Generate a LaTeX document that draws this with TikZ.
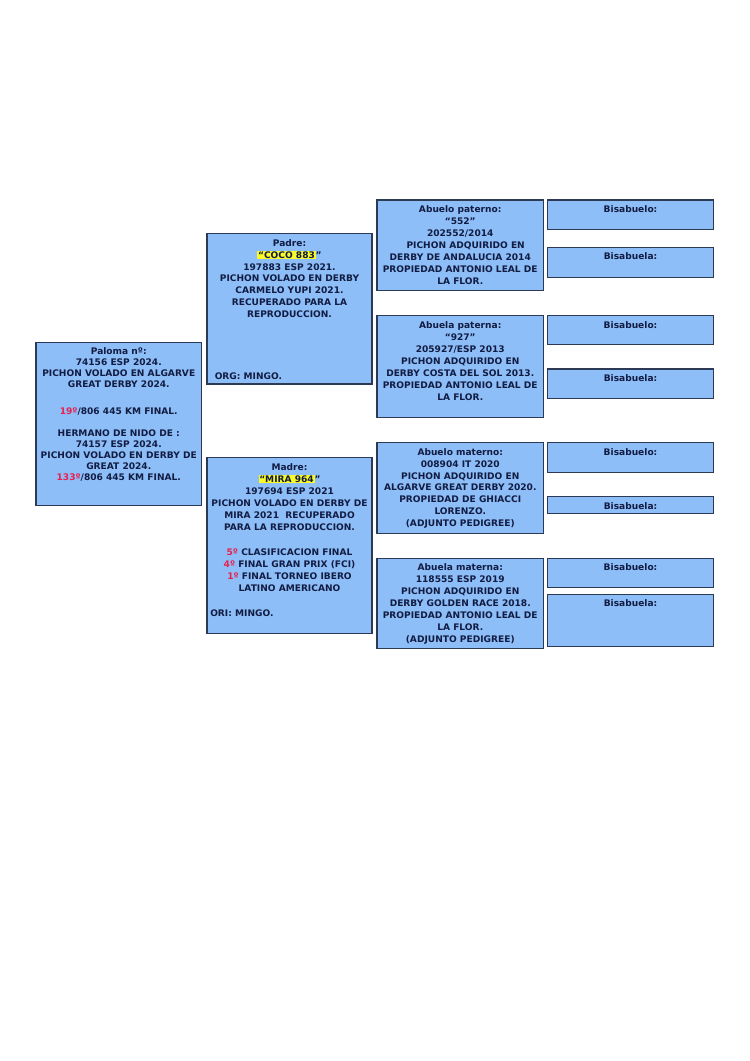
\documentclass[tikz,border=0pt]{standalone}
\usepackage{fontspec}
\setmainfont{DejaVu Sans}
\usepackage{xcolor}
\definecolor{boxfill}{RGB}{141,190,248}
\definecolor{boxline}{RGB}{45,58,85}
\definecolor{txtc}{RGB}{18,28,66}
\definecolor{redc}{RGB}{232,32,78}
\definecolor{hl}{RGB}{250,250,40}
\def\pxu{0.7937pt}
\newcommand\hlt[1]{{\setlength{\fboxsep}{0.6pt}\colorbox{hl}{#1}}}
\newcommand\rd[1]{\textcolor{redc}{#1}}
\tikzset{
  x=0.7937pt, y=-0.7937pt,
  box/.style 2 args={draw=boxline, fill=boxfill, line width=1pt,
    minimum width=#1*\pxu, minimum height=#2*\pxu, anchor=north west,
    inner sep=0pt, outer sep=0pt},
  txt/.style={anchor=north, align=center, inner sep=0pt, text=txtc,
    font=\bfseries\fontsize{7.2}{9.5}\selectfont, yshift=-4.3pt},
  txtp/.style={txt, font=\bfseries\fontsize{7.2}{8.7}\selectfont},
  lefttxt/.style={anchor=west, inner sep=0pt, text=txtc,
    font=\bfseries\fontsize{7.2}{9.5}\selectfont}
}
\begin{document}
\begin{tikzpicture}
\useasboundingbox (0,0) rectangle (750,1061);
% generation 1
\node[box={165.5}{163.5}] (pal) at (36,342.3) {};
\node[txtp] (paltxt) at (pal.north) {Paloma nº:\\74156 ESP 2024.\\PICHON VOLADO EN ALGARVE\\GREAT DERBY 2024.\\[12.5pt]\rd{19º}/806 445 KM FINAL.\\[8.6pt]HERMANO DE NIDO DE :\\74157 ESP 2024.\\PICHON VOLADO EN DERBY DE\\GREAT 2024.\\\rd{133º}/806 445 KM FINAL.};
% generation 2
\node[box={165}{150.5}] (pad) at (207,233.5) {};
\node[txt] (padtxt) at (pad.north) {Padre:\\\hlt{“COCO 883}”\\197883 ESP 2021.\\PICHON VOLADO EN DERBY\\CARMELO YUPI 2021.\\RECUPERADO PARA LA\\REPRODUCCION.};
\node[lefttxt] (padorg) at (214.5,375.7) {ORG: MINGO.};
\node[box={165}{175.5}] (mad) at (207,457.8) {};
\node[txt] (madtxt) at (mad.north) {Madre:\\\hlt{“MIRA 964}”\\197694 ESP 2021\\PICHON VOLADO EN DERBY DE\\MIRA 2021\ \ RECUPERADO\\PARA LA REPRODUCCION.\\[10.5pt]\rd{5º} CLASIFICACION FINAL\\\rd{4º} FINAL GRAN PRIX (FCI)\\\rd{1º} FINAL TORNEO IBERO\\LATINO AMERICANO};
\node[lefttxt] (madori) at (210,612.8) {ORI: MINGO.};
% generation 3
\node[box={166.5}{90.7}] (ap) at (377,200) {};
\node[txt] (aptxt) at (ap.north) {Abuelo paterno:\\“552”\\202552/2014\\\hspace*{1.2em}PICHON ADQUIRIDO EN\\DERBY DE ANDALUCIA 2014\\PROPIEDAD ANTONIO LEAL DE\\LA FLOR.};
\node[box={166.5}{102}] (bp) at (377,315.7) {};
\node[txt] (bptxt) at (bp.north) {Abuela paterna:\\“927”\\205927/ESP 2013\\PICHON ADQUIRIDO EN\\DERBY COSTA DEL SOL 2013.\\PROPIEDAD ANTONIO LEAL DE\\LA FLOR.};
\node[box={166.5}{91}] (am) at (377,442.5) {};
\node[txt] (amtxt) at (am.north) {Abuelo materno:\\008904 IT 2020\\PICHON ADQUIRIDO EN\\ALGARVE GREAT DERBY 2020.\\PROPIEDAD DE GHIACCI\\LORENZO.\\(ADJUNTO PEDIGREE)};
\node[box={166.5}{90}] (bm) at (377,558.3) {};
\node[txt] (bmtxt) at (bm.north) {Abuela materna:\\118555 ESP 2019\\PICHON ADQUIRIDO EN\\DERBY GOLDEN RACE 2018.\\PROPIEDAD ANTONIO LEAL DE\\LA FLOR.\\(ADJUNTO PEDIGREE)};
% generation 4
\node[box={165.7}{29.3}] (g1) at (547.7,200) {};
\node[txt] (g1t) at (g1.north) {Bisabuelo:};
\node[box={165.7}{30}] (g2) at (547.7,247.3) {};
\node[txt] (g2t) at (g2.north) {Bisabuela:};
\node[box={165.7}{28.6}] (g3) at (547.7,315.7) {};
\node[txt] (g3t) at (g3.north) {Bisabuelo:};
\node[box={165.7}{29.3}] (g4) at (547.7,369) {};
\node[txt] (g4t) at (g4.north) {Bisabuela:};
\node[box={165.7}{29.6}] (g5) at (547.7,442.7) {};
\node[txt] (g5t) at (g5.north) {Bisabuelo:};
\node[box={165.7}{16.6}] (g6) at (547.7,496.7) {};
\node[txt] (g6t) at (g6.north) {Bisabuela:};
\node[box={165.7}{29}] (g7) at (547.7,558.3) {};
\node[txt] (g7t) at (g7.north) {Bisabuelo:};
\node[box={165.7}{52.4}] (g8) at (547.7,594.3) {};
\node[txt] (g8t) at (g8.north) {Bisabuela:};
\end{tikzpicture}
\end{document}
